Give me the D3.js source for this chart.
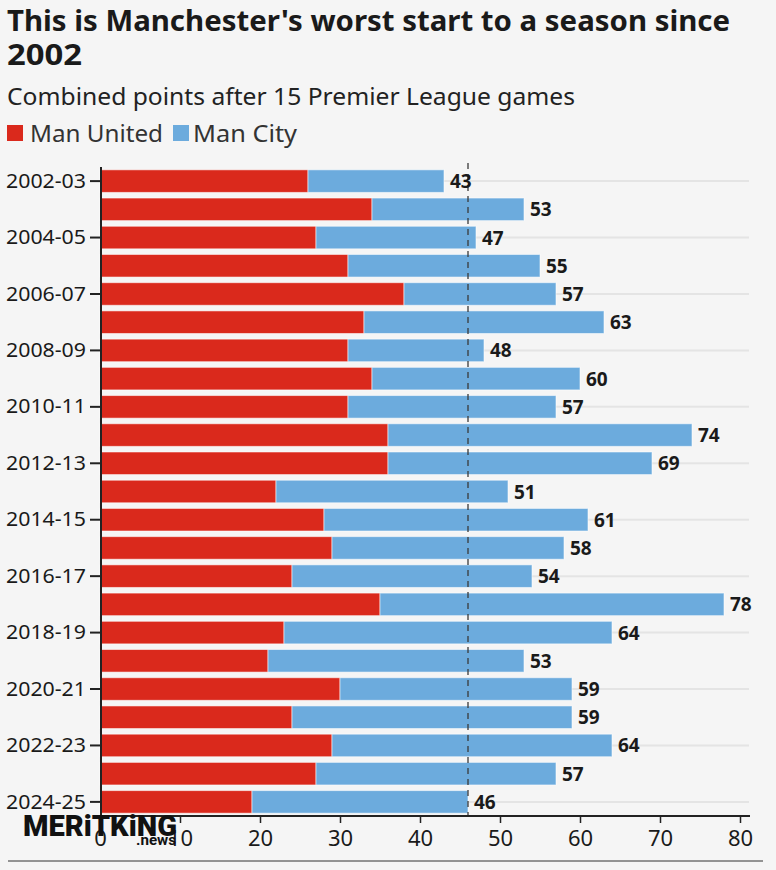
<!DOCTYPE html>
<html><head><meta charset="utf-8">
<script src="https://cdn.jsdelivr.net/npm/d3@7"></script>
<style>
html,body{margin:0;padding:0;background:#f5f5f5;}
svg{display:block;font-family:"Noto Sans",sans-serif;}
</style></head>
<body>
<script>
const seasons = ["2002-03","2003-04","2004-05","2005-06","2006-07","2007-08","2008-09","2009-10","2010-11","2011-12","2012-13","2013-14","2014-15","2015-16","2016-17","2017-18","2018-19","2019-20","2020-21","2021-22","2022-23","2023-24","2024-25"];
const manUnited = [26,34,27,31,38,33,31,34,31,36,36,22,28,29,24,35,23,21,30,24,29,27,19];
const manCity   = [17,19,20,24,19,30,17,26,26,38,33,29,33,29,30,43,41,32,29,35,35,30,27];
const xTicks = [0,10,20,30,40,50,60,70,80];
const labeledSeasons = seasons.filter((d,i)=>i%2===0);
const referenceValue = 46;
const seriesNames = ["Man United","Man City"];
const colors = ["#da291c","#6cabdd"];
const title1 = "This is Manchester's worst start to a season since";
const title2 = "2002";
const subtitle = "Combined points after 15 Premier League games";

const W=776,H=870;
const svg=d3.select("body").append("svg").attr("width",W).attr("height",H);
svg.append("rect").attr("width",W).attr("height",H).attr("fill","#f5f5f5");

function fit(sel,w){sel.attr("textLength",w).attr("lengthAdjust","spacingAndGlyphs");return sel;}

fit(svg.append("text").attr("x",7).attr("y",30.5).attr("font-size",28).attr("font-weight",700).attr("fill","#1a1a1a").text(title1),723);
fit(svg.append("text").attr("x",7).attr("y",64.5).attr("font-size",28).attr("font-weight",700).attr("fill","#1a1a1a").text(title2),75);
fit(svg.append("text").attr("x",7).attr("y",105).attr("font-size",23.5).attr("fill","#222").text(subtitle),568);

// legend
const lg=[{x:7,tx:30,w:133},{x:173,tx:193,w:104}];
seriesNames.forEach((n,i)=>{
  svg.append("rect").attr("x",lg[i].x).attr("y",125).attr("width",16).attr("height",16).attr("fill",colors[i]);
  fit(svg.append("text").attr("x",lg[i].tx).attr("y",142).attr("font-size",23).attr("fill","#333").text(n),lg[i].w);
});

const x=d3.scaleLinear().domain([0,80]).range([100,740]);
const y=d3.scaleBand().domain(seasons).range([167,816]).paddingInner(0.2).paddingOuter(0.1);

// gridlines
svg.append("g").selectAll("line").data(labeledSeasons).join("line")
  .attr("x1",101).attr("x2",749)
  .attr("y1",d=>y(d)+y.bandwidth()/2).attr("y2",d=>y(d)+y.bandwidth()/2)
  .attr("stroke","#e4e4e4").attr("stroke-width",2);

const stack=d3.stack().keys([0,1]).value((d,k)=>k===0?d.u:d.c);
const rows=seasons.map((s,i)=>({s,u:manUnited[i],c:manCity[i]}));
const series=stack(rows);
svg.append("g").selectAll("g").data(series).join("g").attr("fill",(d,i)=>colors[i])
  .selectAll("rect").data(d=>d).join("rect")
  .attr("x",d=>x(d[0])).attr("width",d=>x(d[1])-x(d[0]))
  .attr("y",d=>y(d.data.s)).attr("height",y.bandwidth())
  .attr("stroke","rgba(255,255,255,0.55)").attr("stroke-width",1);

// reference dashed line
svg.append("line").attr("x1",x(referenceValue)).attr("x2",x(referenceValue))
  .attr("y1",163).attr("y2",816).attr("stroke","#3a3a3a").attr("stroke-width",1.3).attr("stroke-dasharray","6,5");

// value labels
svg.append("g").selectAll("text").data(rows).join("text")
  .attr("x",d=>x(d.u+d.c)+6).attr("y",d=>y(d.s)+y.bandwidth()/2+7)
  .attr("font-size",19).attr("font-weight",700).attr("fill","#1a1a1a")
  .text(d=>d.u+d.c);

// y axis
const yAxis=d3.axisLeft(y).tickValues(labeledSeasons).tickSize(10).tickPadding(4);
const gy=svg.append("g").attr("transform","translate(100,0)").call(yAxis);
gy.select(".domain").remove();
gy.selectAll(".tick line").attr("stroke","#222").attr("stroke-width",2);
gy.selectAll(".tick text").attr("font-size",19.5).attr("fill","#1a1a1a").attr("font-family","Noto Sans").attr("dy","0.34em")
  .attr("textLength",80).attr("lengthAdjust","spacingAndGlyphs");
svg.append("line").attr("x1",101).attr("x2",101).attr("y1",167).attr("y2",817).attr("stroke","#222").attr("stroke-width",2);

// x axis
const xAxis=d3.axisBottom(x).tickValues(xTicks).tickSize(7).tickPadding(3);
const gx=svg.append("g").attr("transform","translate(0,816)").call(xAxis);
gx.select(".domain").remove();
gx.selectAll(".tick line").attr("stroke","#222").attr("stroke-width",1.5);
gx.selectAll(".tick text").attr("font-size",22).attr("fill","#1a1a1a").attr("font-family","Noto Sans").attr("dy","0.9em");
svg.append("line").attr("x1",100).attr("x2",750).attr("y1",816).attr("y2",816).attr("stroke","#222").attr("stroke-width",2);

// watermark
fit(svg.append("text").attr("x",23).attr("y",836).attr("font-size",29).attr("font-weight",900).attr("fill","#111").attr("font-family","Roboto").text("MERiTKiNG"),154);
fit(svg.append("text").attr("x",136).attr("y",845).attr("font-size",14).attr("font-weight",700).attr("fill","#111").attr("font-family","Roboto").text(".news"),40);

svg.append("line").attr("x1",8).attr("x2",763).attr("y1",861).attr("y2",861).attr("stroke","#333").attr("stroke-width",1);
</script>
</body></html>
